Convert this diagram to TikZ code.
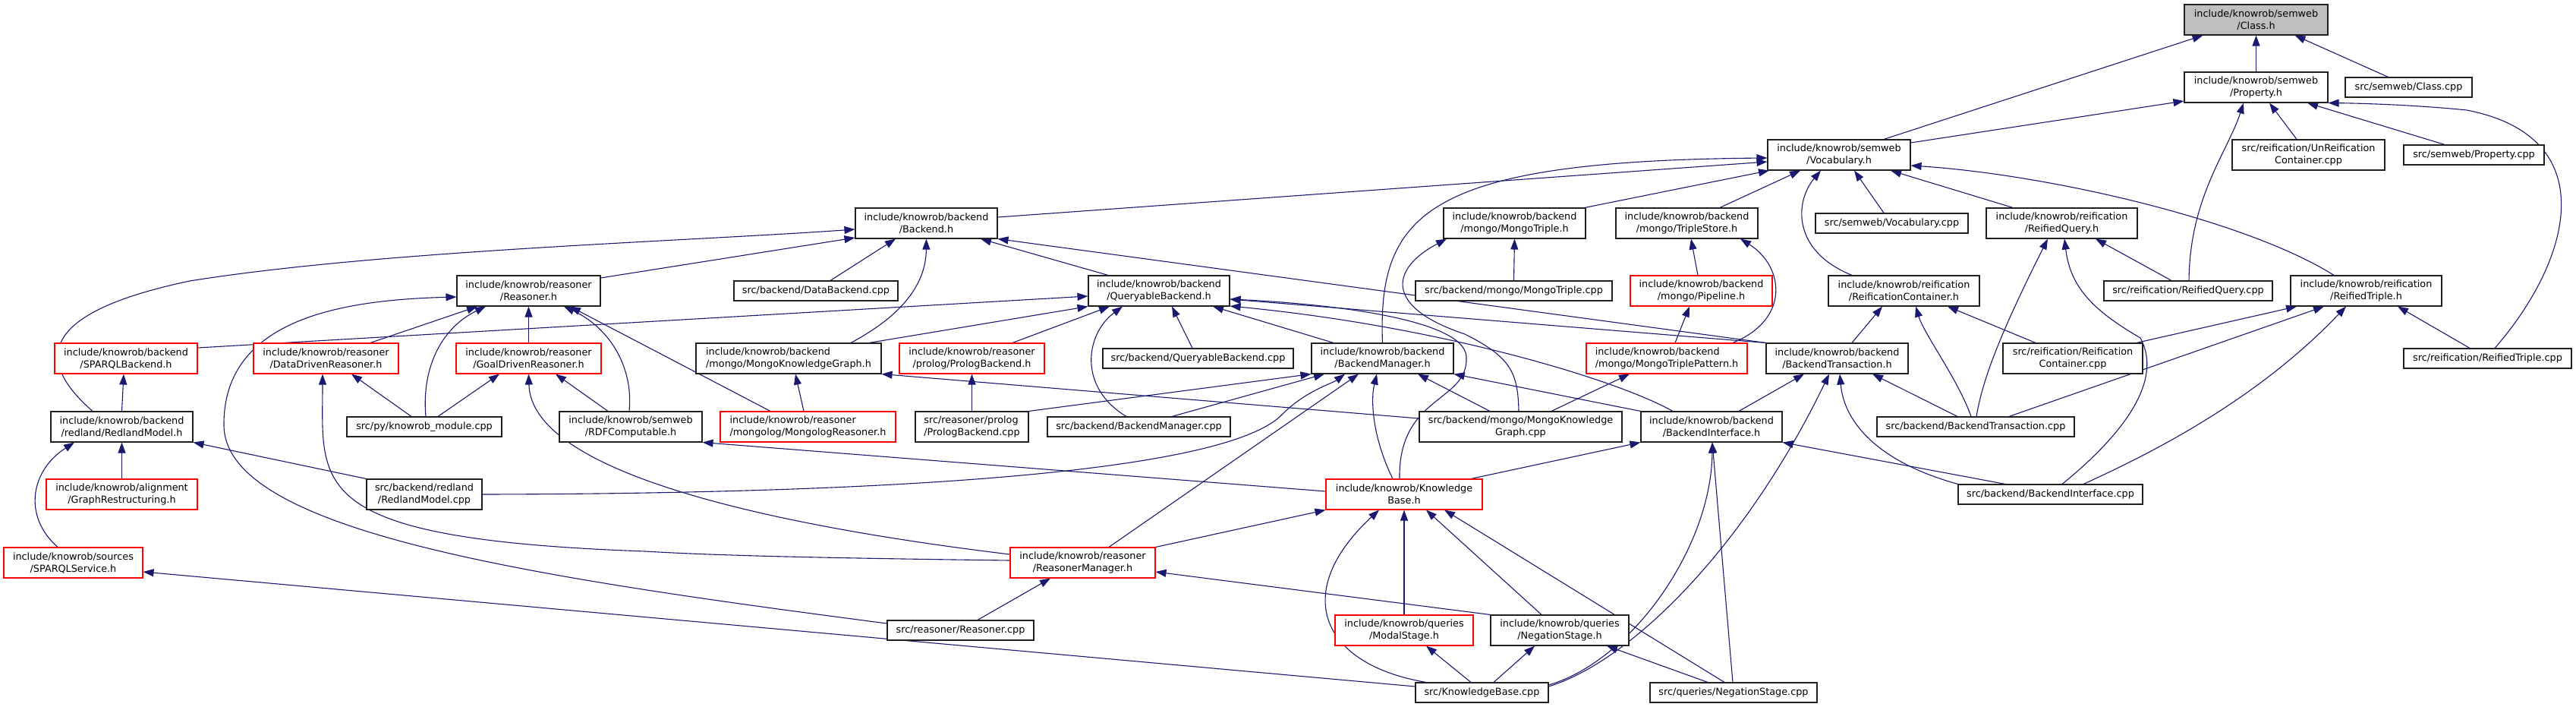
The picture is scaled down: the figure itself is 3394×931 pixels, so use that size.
\documentclass[tikz,border=0pt]{standalone}
\usepackage{fontspec}
\setmainfont{DejaVu Sans}
\usetikzlibrary{arrows.meta}
\definecolor{edgec}{HTML}{191970}
\definecolor{rootfill}{HTML}{BFBFBF}
\definecolor{truncred}{HTML}{FF0000}
\definecolor{boxline}{HTML}{202020}
\pgfdeclarelayer{bg}
\pgfsetlayers{bg,main}
\begin{document}
\begin{tikzpicture}[x=1pt,y=-1pt,
  box/.style={draw=boxline, line width=1.1pt, fill=white, inner sep=0pt, align=center,
    minimum height=40pt, font=\fontsize{12.8}{16}\selectfont},
  one/.style={minimum height=26pt},
  trunc/.style={draw=truncred},
  root/.style={fill=rootfill},
  lft/.style={align=left},
  w/.style={minimum width=#1pt},
  conn/.style={draw=edgec, line width=1.1pt, -{Triangle[length=14pt,width=10pt]}}]
\useasboundingbox (0,0) rectangle (3394,931);

% rank 0
\node[box,root,w=189] (classh) at (2972.5,26) {include/knowrob/semweb\\/Class.h};
% rank 1
\node[box,w=189] (propertyh) at (2972.5,115) {include/knowrob/semweb\\/Property.h};
\node[box,one,w=167] (classcpp) at (3173.5,115) {src/semweb/Class.cpp};
% rank 2
\node[box,w=188] (vocabh) at (2423,204) {include/knowrob/semweb\\/Vocabulary.h};
\node[box,w=201] (unreifcpp) at (3041.5,204) {src/reification/UnReification\\Container.cpp};
\node[box,one,w=185] (propertycpp) at (3259.5,204) {src/semweb/Property.cpp};
% rank 3
\node[box,w=187] (backendh) at (1220.5,294) {include/knowrob/backend\\/Backend.h};
\node[box,w=187] (mongotripleh) at (1995.5,294) {include/knowrob/backend\\/mongo/MongoTriple.h};
\node[box,w=187] (triplestoreh) at (2222.5,294) {include/knowrob/backend\\/mongo/TripleStore.h};
\node[box,one,w=201] (vocabcpp) at (2492.5,294) {src/semweb/Vocabulary.cpp};
\node[box,w=199] (reifqueryh) at (2716.5,294) {include/knowrob/reification\\/ReifiedQuery.h};
% rank 4
\node[box,w=189] (reasonerh) at (696.5,383) {include/knowrob/reasoner\\/Reasoner.h};
\node[box,one,w=216] (databackendcpp) at (1075,383) {src/backend/DataBackend.cpp};
\node[box,w=186] (queryableh) at (1527,383) {include/knowrob/backend\\/QueryableBackend.h};
\node[box,one,w=259] (mongotriplecpp) at (1994.5,383) {src/backend/mongo/MongoTriple.cpp};
\node[box,trunc,w=187] (pipelineh) at (2241.5,383) {include/knowrob/backend\\/mongo/Pipeline.h};
\node[box,w=199] (reifconth) at (2508.5,383) {include/knowrob/reification\\/ReificationContainer.h};
\node[box,one,w=222] (reifquerycpp) at (2883,383) {src/reification/ReifiedQuery.cpp};
\node[box,w=199] (reiftripleh) at (3117.5,383) {include/knowrob/reification\\/ReifiedTriple.h};
% rank 5
\node[box,trunc,w=188] (sparqlbackendh) at (166,472) {include/knowrob/backend\\/SPARQLBackend.h};
\node[box,trunc,w=191] (datadrivenh) at (429.5,472) {include/knowrob/reasoner\\/DataDrivenReasoner.h};
\node[box,trunc,w=191] (goaldrivenh) at (696.5,472) {include/knowrob/reasoner\\/GoalDrivenReasoner.h};
\node[box,lft,w=244] (mongokgh) at (1039,472) {include/knowrob/backend\\/mongo/MongoKnowledgeGraph.h};
\node[box,trunc,w=191] (prologbackendh) at (1280.5,472) {include/knowrob/reasoner\\/prolog/PrologBackend.h};
\node[box,one,w=251] (queryablecpp) at (1578.5,472) {src/backend/QueryableBackend.cpp};
\node[box,w=187] (backendmanagerh) at (1821.5,472) {include/knowrob/backend\\/BackendManager.h};
\node[box,trunc,lft,w=212] (mongotriplepatternh) at (2196,472) {include/knowrob/backend\\/mongo/MongoTriplePattern.h};
\node[box,w=187] (backendtransh) at (2420.5,472) {include/knowrob/backend\\/BackendTransaction.h};
\node[box,w=184] (reifcontcpp) at (2731,472) {src/reification/Reification\\Container.cpp};
\node[box,one,w=221] (reiftriplecpp) at (3277.5,472) {src/reification/ReifiedTriple.cpp};
% rank 6
\node[box,w=187] (redlandh) at (160.5,562) {include/knowrob/backend\\/redland/RedlandModel.h};
\node[box,one,w=204] (pymodulecpp) at (559,562) {src/py/knowrob\_module.cpp};
\node[box,w=188] (rdfcomph) at (831,562) {include/knowrob/semweb\\/RDFComputable.h};
\node[box,trunc,lft,w=231] (mongologh) at (1064.5,562) {include/knowrob/reasoner\\/mongolog/MongologReasoner.h};
\node[box,lft,w=149] (prologbackendcpp) at (1280.5,562) {src/reasoner/prolog\\/PrologBackend.cpp};
\node[box,one,w=241] (backendmanagercpp) at (1500.5,562) {src/backend/BackendManager.cpp};
\node[box,w=267] (mongokgcpp) at (2003.5,562) {src/backend/mongo/MongoKnowledge\\Graph.cpp};
\node[box,w=186] (backendinterfaceh) at (2255,562) {include/knowrob/backend\\/BackendInterface.h};
\node[box,one,w=260] (backendtranscpp) at (2603,562) {src/backend/BackendTransaction.cpp};
% rank 7
\node[box,trunc,w=199] (graphrestructh) at (160.5,651) {include/knowrob/alignment\\/GraphRestructuring.h};
\node[box,w=152] (redlandcpp) at (559,651) {src/backend/redland\\/RedlandModel.cpp};
\node[box,trunc,w=206] (kbh) at (1850,651) {include/knowrob/Knowledge\\Base.h};
\node[box,one,w=243] (backendinterfacecpp) at (2701.5,651) {src/backend/BackendInterface.cpp};
% rank 8
\node[box,trunc,w=183] (sparqlserviceh) at (96.5,741) {include/knowrob/sources\\/SPARQLService.h};
\node[box,trunc,w=191] (reasonermanagerh) at (1426.5,741) {include/knowrob/reasoner\\/ReasonerManager.h};
% rank 9
\node[box,one,w=193] (reasonercpp) at (1265.5,830) {src/reasoner/Reasoner.cpp};
\node[box,trunc,w=182] (modalstageh) at (1850,830) {include/knowrob/queries\\/ModalStage.h};
\node[box,w=182] (negationstageh) at (2055,830) {include/knowrob/queries\\/NegationStage.h};
% rank 10
\node[box,one,w=175] (kbcpp) at (1952.5,912) {src/KnowledgeBase.cpp};
\node[box,one,w=220] (negationstagecpp) at (2284,912) {src/queries/NegationStage.cpp};

\begin{pgfonlayer}{bg}
% Class.h / Property.h
\draw[conn] ([xshift=59]vocabh.north) -- ([xshift=-70]classh.south);
\draw[conn] (propertyh.north) -- (classh.south);
\draw[conn] ([xshift=-27]classcpp.north) -- ([xshift=51]classh.south);
\draw[conn] ([yshift=16]vocabh.east) -- ([yshift=-18]propertyh.west);
\draw[conn] ([xshift=1]reifquerycpp.north) .. controls (2885,260) and (2935,200) .. ([xshift=-16.5]propertyh.south);
\draw[conn] ([xshift=-15.5]unreifcpp.north) -- ([xshift=17.5]propertyh.south);
\draw[conn] ([xshift=-38.5]propertycpp.north) -- ([xshift=67.5]propertyh.south);
\draw[conn] ([xshift=9.5]reiftriplecpp.north) .. controls (3390,340) and (3430,180) .. (3250,145) .. controls (3180,138) and (3110,136) .. (propertyh.south east);
% Vocabulary.h
\draw[conn] ([xshift=-42.5]reiftripleh.north) .. controls (2960,290) and (2700,230) .. ([yshift=-14]vocabh.east);
\draw[conn] ([xshift=-64.5]reifqueryh.north) -- ([xshift=68]vocabh.south);
\draw[conn] ([xshift=-68.5]reifconth.north) .. controls (2360,330) and (2365,265) .. ([xshift=-24]vocabh.south);
\draw[conn] ([xshift=-10.5]vocabcpp.north) -- ([xshift=20]vocabh.south);
\draw[conn] ([xshift=43.5]triplestoreh.north) -- ([xshift=-51]vocabh.south);
\draw[conn] ([xshift=92.5]mongotripleh.north) -- ([xshift=-92]vocabh.south);
\draw[conn] (backendmanagerh.north) .. controls (1815,280) and (1880,212) .. ([yshift=-4]vocabh.west);
\draw[conn] ([yshift=8]backendh.east) -- ([yshift=-9]vocabh.west);
% Backend.h
\draw[conn] ([xshift=-38.5]redlandh.north) .. controls (40,470) and (60,410) .. (250,370) .. controls (500,330) and (900,318) .. ([yshift=-8]backendh.west);
\draw[conn] ([yshift=17]reasonerh.east) -- ([yshift=-19]backendh.west);
\draw[conn] ([xshift=19]databackendcpp.north) -- ([xshift=-40.5]backendh.south);
\draw[conn] ([xshift=82]mongokgh.north) .. controls (1180,420) and (1220,380) .. (backendh.south);
\draw[conn] ([xshift=-67]queryableh.north) -- ([xshift=71.5]backendh.south);
\draw[conn] (backendtransh.north west) -- (backendh.south east);
% QueryableBackend.h
\draw[conn] ([yshift=14]sparqlbackendh.east) -- ([yshift=-7]queryableh.west);
\draw[conn] ([xshift=106]mongokgh.north) -- (queryableh.south west);
\draw[conn] ([xshift=53.5]prologbackendh.north) -- ([xshift=-65]queryableh.south);
\draw[conn] ([xshift=-16.5]backendmanagercpp.north) .. controls (1420,510) and (1430,440) .. ([xshift=-48]queryableh.south);
\draw[conn] ([xshift=-7.5]queryablecpp.north) -- ([xshift=17]queryableh.south);
\draw[conn] ([xshift=-64.5]backendmanagerh.north) -- ([xshift=71]queryableh.south);
\draw[conn] (backendtransh.north west) -- ([yshift=-11]queryableh.east);
\draw[conn] ([xshift=-6]kbh.north) .. controls (1842,520) and (1935,530) .. (1932,470) .. controls (1930,420) and (1750,400) .. ([yshift=-11]queryableh.east);
\draw[conn] ([xshift=-51]backendinterfaceh.north) .. controls (2130,500) and (1900,430) .. ([yshift=-20]queryableh.east);
% Reasoner.h
\draw[conn] ([yshift=9]reasonercpp.west) .. controls (700,760) and (296,700) .. (295,560) .. controls (294,420) and (450,395) .. ([yshift=-8]reasonerh.west);
\draw[conn] ([xshift=58.5]datadrivenh.north) -- ([xshift=-67.5]reasonerh.south);
\draw[conn] ([xshift=2]pymodulecpp.north) .. controls (555,480) and (585,430) .. ([xshift=-56.5]reasonerh.south);
\draw[conn] (goaldrivenh.north) -- (reasonerh.south);
\draw[conn] ([xshift=-2]rdfcomph.north) .. controls (835,480) and (800,430) .. ([xshift=46.5]reasonerh.south);
\draw[conn] ([xshift=-49.5]mongologh.north) -- ([xshift=54.5]reasonerh.south);
% SPARQLBackend.h / RedlandModel.h
\draw[conn] (redlandh.north) -- ([xshift=-3]sparqlbackendh.south);
\draw[conn] ([xshift=-20.5]sparqlserviceh.north) .. controls (30,680) and (40,620) .. ([xshift=-62.5]redlandh.south);
\draw[conn] (graphrestructh.north) -- (redlandh.south);
\draw[conn] (redlandcpp.north west) -- (redlandh.south east);
% DataDriven / GoalDriven
\draw[conn] ([yshift=3]reasonermanagerh.west) .. controls (1100,735) and (950,732) .. (850,726) .. controls (400,710) and (425,640) .. ([xshift=-4.5]datadrivenh.south);
\draw[conn] ([xshift=-17]pymodulecpp.north) -- ([xshift=33.5]datadrivenh.south);
\draw[conn] ([xshift=18]pymodulecpp.north) -- ([xshift=-38.5]goaldrivenh.south);
\draw[conn] ([yshift=11]reasonermanagerh.west) .. controls (1000,690) and (700,620) .. (goaldrivenh.south);
\draw[conn] ([xshift=-30]rdfcomph.north) -- ([xshift=35.5]goaldrivenh.south);
% MongoKnowledgeGraph.h / PrologBackend.h
\draw[conn] ([xshift=-5.5]mongologh.north) -- ([xshift=9]mongokgh.south);
\draw[conn] ([yshift=11]mongokgcpp.west) -- (mongokgh.south east);
\draw[conn] (prologbackendcpp.north) -- (prologbackendh.south);
% BackendManager.h
\draw[conn] (prologbackendcpp.north east) -- (backendmanagerh.south west);
\draw[conn] ([xshift=43.5]backendmanagercpp.north) -- ([xshift=-76.5]backendmanagerh.south);
\draw[conn] (redlandcpp.east) .. controls (1200,650) and (1620,620) .. (1690,545) .. controls (1720,515) and (1755,505) .. ([xshift=-49.5]backendmanagerh.south);
\draw[conn] ([xshift=34.5]reasonermanagerh.north) -- ([xshift=-31.5]backendmanagerh.south);
\draw[conn] ([xshift=-15]kbh.north) .. controls (1810,580) and (1805,530) .. ([xshift=-7.5]backendmanagerh.south);
\draw[conn] ([xshift=-40.5]mongokgcpp.north) -- ([xshift=46.5]backendmanagerh.south);
\draw[conn] (backendinterfaceh.north west) -- (backendmanagerh.south east);
% mongo
\draw[conn] ([xshift=-2.5]mongokgcpp.north) .. controls (2000,490) and (1990,470) .. (1930,440) .. controls (1825,405) and (1830,355) .. ([xshift=-89.5]mongotripleh.south);
\draw[conn] ([xshift=40.5]mongokgcpp.north) -- ([xshift=-49]mongotriplepatternh.south);
\draw[conn] (mongotriplecpp.north) -- (mongotripleh.south);
\draw[conn] ([xshift=-4.5]pipelineh.north) -- ([xshift=5.5]triplestoreh.south);
\draw[conn] ([xshift=11]mongotriplepatternh.north) -- ([xshift=-15.5]pipelineh.south);
\draw[conn] ([xshift=87]mongotriplepatternh.north) .. controls (2360,420) and (2350,350) .. ([xshift=70.5]triplestoreh.south);
% BackendTransaction.h
\draw[conn] ([xshift=36]backendinterfaceh.north) -- ([xshift=-43.5]backendtransh.south);
\draw[conn] ([yshift=8]kbcpp.east) .. controls (2150,870) and (2300,720) .. ([xshift=-10.5]backendtransh.south);
\draw[conn] (backendinterfacecpp.north west) .. controls (2480,610) and (2430,560) .. ([xshift=3.5]backendtransh.south);
\draw[conn] ([xshift=-24]backendtranscpp.north) -- ([xshift=46.5]backendtransh.south);
% BackendInterface.h
\draw[conn] ([xshift=88]kbh.north) -- (backendinterfaceh.south west);
\draw[conn] ([yshift=10]kbcpp.east) .. controls (2150,870) and (2255,720) .. ([xshift=1]backendinterfaceh.south);
\draw[conn] ([xshift=-1]negationstagecpp.north) -- ([xshift=1]backendinterfaceh.south);
\draw[conn] ([xshift=-59.5]backendinterfacecpp.north) -- (backendinterfaceh.south east);
% KnowledgeBase.h
\draw[conn] (reasonermanagerh.north east) -- (kbh.south west);
\draw[conn] ([xshift=-73.5]kbcpp.north) .. controls (1740,875) and (1700,780) .. ([xshift=-33]kbh.south);
\draw[conn] (modalstageh.north) -- (kbh.south);
\draw[conn] ([xshift=-24]negationstageh.north) -- ([xshift=29]kbh.south);
\draw[conn] ([xshift=-12]negationstagecpp.north) -- ([xshift=53]kbh.south);
\draw[conn] ([yshift=4]kbh.west) -- (rdfcomph.south east);
% queries
\draw[conn] ([xshift=-14.5]kbcpp.north) -- ([xshift=29]modalstageh.south);
\draw[conn] ([xshift=15.5]kbcpp.north) -- ([xshift=-33]negationstageh.south);
\draw[conn] ([xshift=-34]negationstagecpp.north) -- ([xshift=62]negationstageh.south);
\draw[conn] (negationstageh.north west) -- ([yshift=-12]reasonermanagerh.east);
\draw[conn] ([xshift=22.5]reasonercpp.north) -- ([xshift=-42.5]reasonermanagerh.south);
\draw[conn] ([yshift=8]kbcpp.west) -- ([yshift=-12]sparqlserviceh.east);
% reification
\draw[conn] ([xshift=-22]reifquerycpp.north) -- ([xshift=44.5]reifqueryh.south);
\draw[conn] ([xshift=1]backendtranscpp.north) .. controls (2612,500) and (2635,440) .. ([xshift=-18.5]reifqueryh.south);
\draw[conn] ([xshift=15.5]backendinterfacecpp.north) .. controls (2800,570) and (2850,500) .. (2820,445) .. controls (2760,410) and (2728,380) .. ([xshift=3.5]reifqueryh.south);
\draw[conn] ([xshift=84]reifcontcpp.north) -- ([xshift=-91.5]reiftripleh.south);
\draw[conn] ([xshift=44]backendtranscpp.north) -- ([xshift=-55.5]reiftripleh.south);
\draw[conn] ([xshift=43.5]backendinterfacecpp.north) .. controls (2850,590) and (2980,520) .. ([xshift=-26.5]reiftripleh.south);
\draw[conn] ([xshift=-23.5]reiftriplecpp.north) -- ([xshift=41.5]reiftripleh.south);
\draw[conn] ([xshift=-49]reifcontcpp.north) -- ([xshift=57.5]reifconth.south);
\draw[conn] ([xshift=19.5]backendtransh.north) -- ([xshift=-28.5]reifconth.south);
\draw[conn] ([xshift=-6]backendtranscpp.north) .. controls (2580,500) and (2535,440) .. ([xshift=15.5]reifconth.south);
\end{pgfonlayer}
\end{tikzpicture}
\end{document}
